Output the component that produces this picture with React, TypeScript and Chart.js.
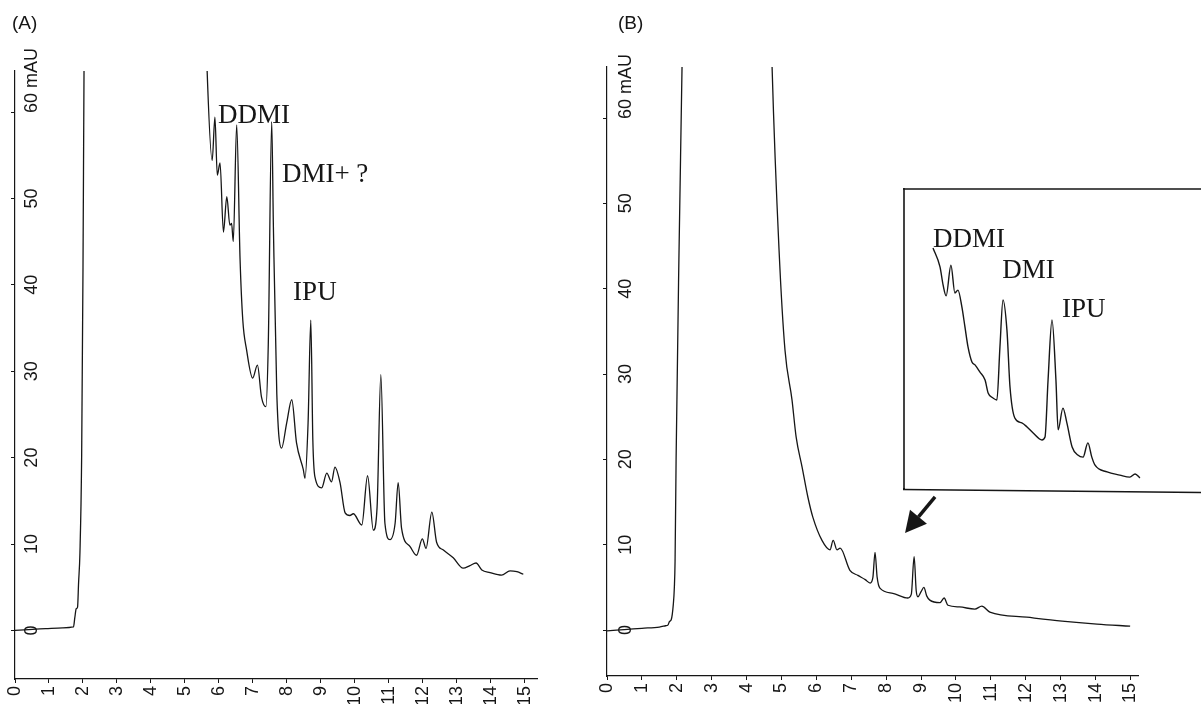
import React, { useEffect, useRef } from "react";
import { Chart, registerables } from "chart.js";

Chart.register(...registerables);

// ---------- data (retention time in min, absorbance in mAU) ----------
const timeA = [0, 0.4, 0.9, 1.4, 1.72, 1.76, 1.8, 1.84, 1.87, 1.91, 1.96, 2.0, 2.03, 2.06, 5.55, 5.65, 5.8, 5.88, 5.95, 6.03, 6.13, 6.23, 6.32, 6.37, 6.42, 6.52, 6.62, 6.7, 6.81, 6.99, 7.13, 7.25, 7.38, 7.45, 7.55, 7.6, 7.7, 7.84, 7.99, 8.14, 8.28, 8.48, 8.53, 8.62, 8.7, 8.76, 8.82, 9.02, 9.17, 9.31, 9.41, 9.56, 9.71, 9.85, 9.95, 10.2, 10.37, 10.54, 10.65, 10.76, 10.88, 11.03, 11.18, 11.27, 11.37, 11.62, 11.81, 11.98, 12.09, 12.26, 12.4, 12.6, 12.89, 13.18, 13.38, 13.56, 13.73, 13.97, 14.31, 14.56, 14.76, 14.95];
const absA = [0.0, 0.1, 0.2, 0.3, 0.4, 1.5, 2.5, 2.7, 5.5, 9.0, 20, 42, 64.8, 80, 80, 64.9, 54.4, 59.4, 52.7, 54.1, 46.1, 50.2, 46.9, 47.1, 45.0, 58.5, 42.9, 35.9, 32.5, 29.2, 30.7, 27.0, 25.9, 33.2, 58.9, 46.7, 27.4, 21.1, 24.0, 26.7, 21.7, 18.6, 17.6, 24.0, 35.9, 22.0, 17.8, 16.5, 18.2, 17.2, 18.9, 17.1, 13.6, 13.3, 13.5, 12.2, 17.9, 11.6, 14.3, 29.6, 12.4, 10.5, 12.4, 17.1, 11.8, 9.7, 8.7, 10.6, 9.5, 13.7, 10.2, 9.3, 8.4, 7.2, 7.5, 7.8, 7.0, 6.7, 6.4, 6.9, 6.8, 6.5];

const timeB = [0, 0.5, 1.0, 1.5, 1.68, 1.75, 1.79, 1.84, 1.9, 1.93, 1.95, 1.98, 2.06, 2.15, 2.2, 4.65, 4.73, 4.93, 5.1, 5.3, 5.42, 5.59, 5.76, 5.9, 6.16, 6.39, 6.48, 6.59, 6.68, 6.96, 7.19, 7.4, 7.54, 7.62, 7.68, 7.74, 7.82, 8.19, 8.62, 8.72, 8.8, 8.86, 8.91, 9.0, 9.08, 9.16, 9.25, 9.54, 9.66, 9.77, 10.1, 10.54, 10.74, 10.97, 12.03, 13.04, 14.04, 14.99];
const absB = [-0.1, 0.05, 0.2, 0.35, 0.5, 0.6, 1.0, 1.2, 3.0, 5.0, 8.0, 20, 43.4, 66, 80, 80, 66, 44.5, 32.8, 27.0, 22.6, 19.1, 15.5, 13.2, 10.5, 9.4, 10.5, 9.4, 9.6, 7.0, 6.4, 5.9, 5.5, 6.2, 9.1, 6.2, 4.9, 4.3, 3.75, 4.2, 8.6, 4.6, 3.9, 4.5, 5.0, 4.0, 3.5, 3.2, 3.75, 2.9, 2.7, 2.45, 2.8, 2.1, 1.5, 1.05, 0.7, 0.45];

// magnified inset of chromatogram B
const timeInset = [6.08, 6.24, 6.31, 6.38, 6.49, 6.58, 6.65, 6.74, 6.81, 6.88, 6.97, 7.04, 7.15, 7.27, 7.34, 7.45, 7.54, 7.61, 7.68, 7.77, 7.84, 7.95, 8.11, 8.23, 8.37, 8.57, 8.64, 8.71, 8.8, 8.89, 8.94, 9.05, 9.14, 9.26, 9.39, 9.51, 9.62, 9.71, 9.78, 10.06, 10.35, 10.58, 10.7, 10.81];
const absInset = [10.43, 9.78, 9.16, 8.78, 9.84, 8.88, 8.98, 8.4, 7.71, 7.02, 6.5, 6.4, 6.16, 5.88, 5.43, 5.26, 5.19, 7.02, 8.64, 7.6, 5.64, 4.57, 4.4, 4.26, 4.05, 3.81, 3.91, 5.88, 7.95, 5.88, 4.16, 4.91, 4.4, 3.57, 3.29, 3.22, 3.71, 3.22, 2.95, 2.71, 2.6, 2.53, 2.64, 2.5];

const xTicks = [0, 1, 2, 3, 4, 5, 6, 7, 8, 9, 10, 11, 12, 13, 14, 15];
const yTicks = [0, 10, 20, 30, 40, 50, 60];
const yUnit = "mAU";

const peakNamesA = ["DDMI", "DMI+ ?", "IPU"];
const peakTimesA = [5.97, 7.85, 8.18];
const peakLevelsA = [58.7, 51.9, 38.2];

const peakNamesInset = ["DDMI", "DMI", "IPU"];
const peakTimesInset = [6.08, 7.66, 9.03];
const peakLevelsInset = [10.47, 9.4, 8.05];

// arrow pointing at the magnified region of B (tail, tip) in data units
const arrowB = { from: [9.4, 15.6], to: [8.54, 11.37] };

// ---------- styling ----------
const INK = "#161616";
const SANS = '"Liberation Sans", Arial, sans-serif';
const SERIF = '"Liberation Serif", "Times New Roman", serif';

type Cfg = {
  id: string;
  panel?: { text: string; x: number; y: number };
  yLabelOffset?: number;
  notes?: { names: string[]; xs: number[]; ys: number[] };
  arrow?: { from: number[]; to: number[] };
  frame?: boolean;
};

function overlay(cfg: Cfg) {
  return {
    id: "overlay_" + cfg.id,
    beforeDraw(chart: any) {
      if (cfg.frame) {
        const { ctx, width, height } = chart;
        ctx.save();
        ctx.fillStyle = "#ffffff";
        ctx.fillRect(0, 0, width, height);
        ctx.restore();
      }
    },
    afterDraw(chart: any) {
      const { ctx, chartArea } = chart;
      const xs = chart.scales.x;
      const ys = chart.scales.y;
      ctx.save();
      ctx.fillStyle = INK;
      ctx.strokeStyle = INK;

      if (cfg.yLabelOffset !== undefined) {
        ctx.font = `18px ${SANS}`;
        ctx.textAlign = "left";
        ctx.textBaseline = "alphabetic";
        const bx = chartArea.left + cfg.yLabelOffset;
        yTicks.forEach((v, i) => {
          const py = ys.getPixelForValue(v);
          const label = String(v);
          const w = ctx.measureText(label).width;
          const last = i === yTicks.length - 1;
          const text = last ? `${label} ${yUnit}` : label;
          const start = last ? py + 1 : py + w / 2;
          ctx.save();
          ctx.translate(bx, start);
          ctx.rotate(-Math.PI / 2);
          ctx.fillText(text, 0, 0);
          ctx.restore();
        });
      }

      if (cfg.panel) {
        ctx.font = `19px ${SANS}`;
        ctx.textAlign = "left";
        ctx.textBaseline = "alphabetic";
        ctx.fillText(cfg.panel.text, cfg.panel.x, cfg.panel.y);
      }

      if (cfg.notes) {
        ctx.font = `27px ${SERIF}`;
        ctx.textAlign = "left";
        ctx.textBaseline = "alphabetic";
        cfg.notes.names.forEach((n, i) => {
          ctx.fillText(n, xs.getPixelForValue(cfg.notes!.xs[i]), ys.getPixelForValue(cfg.notes!.ys[i]));
        });
      }

      if (cfg.arrow) {
        const x1 = xs.getPixelForValue(cfg.arrow.from[0]);
        const y1 = ys.getPixelForValue(cfg.arrow.from[1]);
        const x2 = xs.getPixelForValue(cfg.arrow.to[0]);
        const y2 = ys.getPixelForValue(cfg.arrow.to[1]);
        const a = Math.atan2(y2 - y1, x2 - x1);
        const hl = 21;
        const hw = 11;
        const bx = x2 - hl * Math.cos(a);
        const by = y2 - hl * Math.sin(a);
        ctx.lineWidth = 3.5;
        ctx.beginPath();
        ctx.moveTo(x1, y1);
        ctx.lineTo(bx, by);
        ctx.stroke();
        ctx.beginPath();
        ctx.moveTo(x2, y2);
        ctx.lineTo(bx + hw * Math.sin(a), by - hw * Math.cos(a));
        ctx.lineTo(bx - hw * Math.sin(a), by + hw * Math.cos(a));
        ctx.closePath();
        ctx.fill();
      }

      if (cfg.frame) {
        const { width } = chart;
        ctx.lineWidth = 1.6;
        ctx.beginPath();
        ctx.moveTo(0, 1);
        ctx.lineTo(width, 1);
        ctx.moveTo(1, 0);
        ctx.lineTo(1, 302);
        ctx.moveTo(0, 301.5);
        ctx.lineTo(width, 304.5);
        ctx.stroke();
      }
      ctx.restore();
    },
  };
}

function axisScales(xMax: number, yMin: number, yMax: number, xAxisHeight: number) {
  const grid = { drawOnChartArea: false, drawTicks: true, tickLength: 4, color: INK, lineWidth: 1 };
  const border = { display: true, color: INK, width: 1.2 };
  return {
    x: {
      type: "linear",
      position: "bottom",
      min: 0,
      max: xMax,
      bounds: "data",
      afterBuildTicks: (s: any) => {
        s.ticks = xTicks.map((v) => ({ value: v }));
      },
      afterFit: (s: any) => {
        s.height = xAxisHeight;
      },
      ticks: {
        autoSkip: false,
        minRotation: 90,
        maxRotation: 90,
        padding: 3,
        color: INK,
        font: { family: SANS, size: 18 },
        callback: (v: any) => String(v),
      },
      grid,
      border,
    },
    y: {
      type: "linear",
      position: "left",
      min: yMin,
      max: yMax,
      bounds: "data",
      afterBuildTicks: (s: any) => {
        s.ticks = yTicks.map((v) => ({ value: v }));
      },
      afterFit: (s: any) => {
        s.width = 0;
      },
      ticks: { display: false },
      grid,
      border,
    },
  };
}

function traceDataset(t: number[], v: number[], width: number) {
  return {
    data: t.map((x, i) => ({ x, y: v[i] })),
    borderColor: INK,
    borderWidth: width,
    pointRadius: 0,
    cubicInterpolationMode: "monotone",
    fill: false,
  };
}

const baseOptions = {
  responsive: false,
  animation: false,
  devicePixelRatio: 1,
  plugins: { legend: { display: false }, tooltip: { enabled: false }, title: { display: false } },
  events: [],
};

export default function App() {
  const refA = useRef<HTMLCanvasElement>(null);
  const refB = useRef<HTMLCanvasElement>(null);
  const refI = useRef<HTMLCanvasElement>(null);

  useEffect(() => {
    const charts: Chart[] = [];

    charts.push(
      new Chart(refA.current!, {
        type: "line",
        data: { datasets: [traceDataset(timeA, absA, 1.3)] },
        options: {
          ...baseOptions,
          layout: { padding: { left: 15, top: 71, right: 43, bottom: 0 } },
          scales: axisScales(15.353, -5.625, 64.75, 25) as any,
        } as any,
        plugins: [
          overlay({
            id: "A",
            panel: { text: "(A)", x: 12, y: 29 },
            yLabelOffset: 22,
            notes: { names: peakNamesA, xs: peakTimesA, ys: peakLevelsA },
          }),
        ],
      })
    );

    charts.push(
      new Chart(refB.current!, {
        type: "line",
        data: { datasets: [traceDataset(timeB, absB, 1.3)] },
        options: {
          ...baseOptions,
          layout: { padding: { left: 27, top: 67, right: 63, bottom: 0 } },
          scales: axisScales(15.215, -5.39, 65.98, 28) as any,
        } as any,
        plugins: [
          overlay({
            id: "B",
            panel: { text: "(B)", x: 38, y: 29 },
            yLabelOffset: 24,
            arrow: arrowB,
          }),
        ],
      })
    );

    charts.push(
      new Chart(refI.current!, {
        type: "line",
        data: { datasets: [traceDataset(timeInset, absInset, 1.4)] },
        options: {
          ...baseOptions,
          layout: { padding: 0 },
          scales: {
            x: { type: "linear", display: false, min: 5.394, max: 12.206 },
            y: { type: "linear", display: false, min: 1.948, max: 12.5 },
          },
        } as any,
        plugins: [
          overlay({
            id: "I",
            frame: true,
            notes: { names: peakNamesInset, xs: peakTimesInset, ys: peakLevelsInset },
          }),
        ],
      })
    );

    return () => charts.forEach((c) => c.destroy());
  }, []);

  return (
    <div style={{ position: "absolute", left: 0, top: 0, width: 1201, height: 704, background: "#fff", overflow: "hidden" }}>
      <canvas ref={refA} width={580} height={704} style={{ position: "absolute", left: 0, top: 0, width: 580, height: 704 }} />
      <canvas ref={refB} width={621} height={704} style={{ position: "absolute", left: 580, top: 0, width: 621, height: 704 }} />
      <canvas ref={refI} width={298} height={306} style={{ position: "absolute", left: 903, top: 188, width: 298, height: 306 }} />
    </div>
  );
}
